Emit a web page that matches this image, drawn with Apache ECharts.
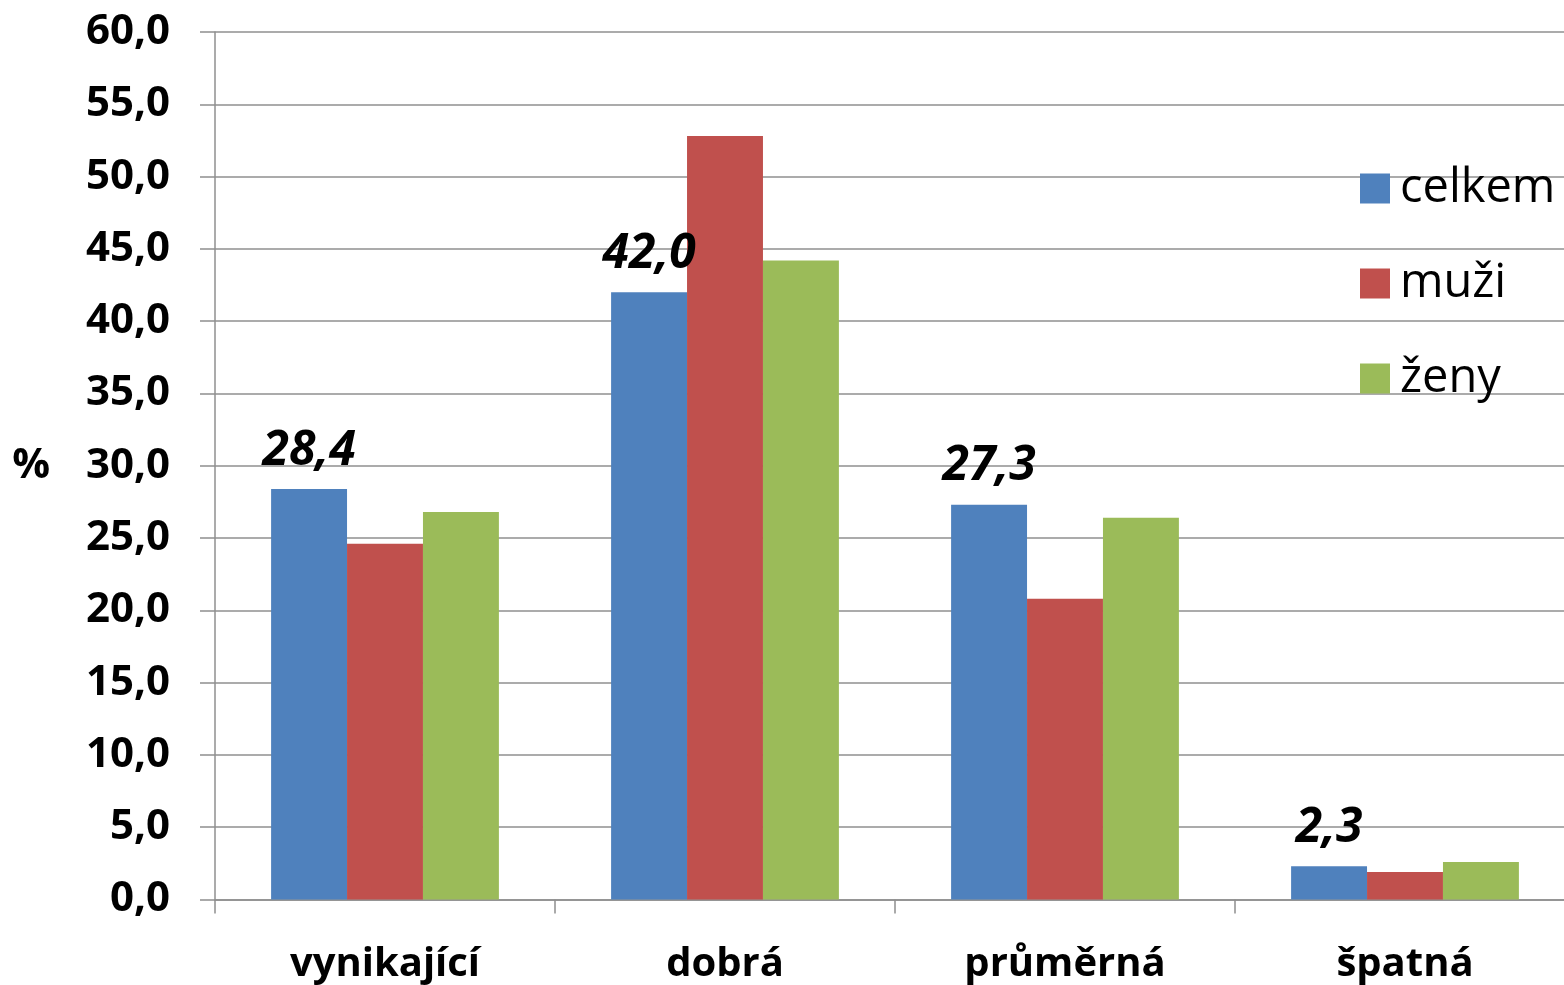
<!DOCTYPE html>
<html><head><meta charset="utf-8">
<script src="https://cdn.jsdelivr.net/npm/echarts@6/dist/echarts.min.js"></script>
<style>html,body{margin:0;padding:0;background:#fff}#c{width:1564px;height:985px}</style>
</head><body><div id="c"></div>
<script>
const categories = ['vynikající', 'dobrá', 'průměrná', 'špatná'];
const celkem = [28.4, 42.0, 27.3, 2.3];
const muzi = [24.6, 52.8, 20.8, 1.9];
const zeny = [26.8, 44.2, 26.4, 2.6];
const seriesNames = ['celkem', 'muži', 'ženy'];
const colors = ['#4F81BD', '#C0504D', '#9BBB59'];
const fmt = v => Number(v).toFixed(1).replace('.', ',');
const FONT = 'Open Sans';
const chart = echarts.init(document.getElementById('c'));
chart.setOption({
  animation: false,
  textStyle: { fontFamily: FONT },
  grid: { left: 215, top: 32, width: 1360, bottom: 85.5, containLabel: false, outerBoundsMode: 'none' },
  legend: {
    orient: 'vertical', left: 1360, top: 165, padding: 0,
    itemWidth: 30, itemHeight: 30, itemGap: 48,
    icon: 'rect',
    data: seriesNames,
    textStyle: { fontFamily: FONT, fontSize: 47, color: '#000', lineHeight: 30, padding: [0, 0, 0, 5] }
  },
  xAxis: {
    type: 'category', data: categories,
    axisLine: { lineStyle: { color: '#8f8f8f', width: 1.5 } },
    axisTick: { show: true, length: 14, lineStyle: { color: '#8f8f8f', width: 1.5 } },
    axisLabel: { margin: 45, fontFamily: FONT, fontSize: 40, fontWeight: 'bold', color: '#000' }
  },
  yAxis: {
    type: 'value', min: 0, max: 60, interval: 5,
    name: '%', nameLocation: 'middle', nameRotate: 0, nameGap: 165,
    nameTextStyle: { fontFamily: FONT, fontSize: 42, fontWeight: 'bold', color: '#000', padding: [12, 0, 0, 0] },
    axisLine: { show: true, lineStyle: { color: '#8f8f8f', width: 1.5 } },
    axisTick: { show: true, length: 15, lineStyle: { color: '#8f8f8f', width: 1.5 } },
    splitLine: { lineStyle: { color: '#8f8f8f', width: 1.5 } },
    axisLabel: { margin: 45, formatter: fmt, fontFamily: FONT, fontSize: 42, fontWeight: 'bold', color: '#000' }
  },
  series: [
    { name: seriesNames[0], type: 'bar', data: celkem, itemStyle: { color: colors[0] },
      barGap: '0%', barCategoryGap: '33%',
      label: { show: true, position: 'top', distance: 14, formatter: p => fmt(p.value),
        fontFamily: FONT, fontSize: 48, fontWeight: 'bold', fontStyle: 'italic', color: '#000' } },
    { name: seriesNames[1], type: 'bar', data: muzi, itemStyle: { color: colors[1] }, barGap: '0%', barCategoryGap: '33%' },
    { name: seriesNames[2], type: 'bar', data: zeny, itemStyle: { color: colors[2] }, barGap: '0%', barCategoryGap: '33%' }
  ]
});
</script></body></html>
